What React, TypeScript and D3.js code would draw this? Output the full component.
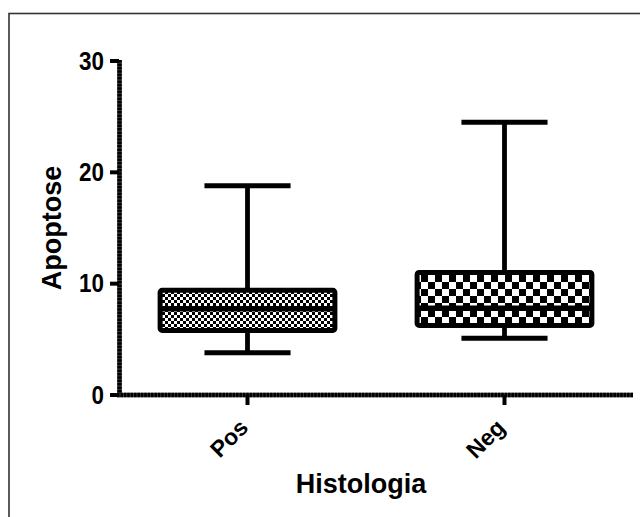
import React from 'react';
import * as d3 from 'd3';

// box plot values
const categories = ['Pos', 'Neg'];
const whiskerLow = [3.8, 5.1];
const q1 = [5.8, 6.25];
const median = [7.75, 7.8];
const q3 = [9.4, 11.0];
const whiskerHigh = [18.8, 24.5];
const yTicks = [0, 10, 20, 30];
const patterns = ['finecheck', 'bigcheck'];

const W = 640;
const H = 517;
const font = 'Arial, "Liberation Sans", Helvetica, sans-serif';

const App = () => {
  const x = d3.scaleBand().domain(categories).range([119, 633]).padding(0);
  const y = d3.scaleLinear().domain([0, 30]).range([395, 61]);
  const bw = x.bandwidth();
  const boxW = bw * 0.68;
  const capW = bw * 0.335;

  return (
    <svg width={W} height={H} style={{ position: 'absolute', left: 0, top: 0, background: '#fff' }}>
      <defs>
        <pattern id="finecheck" patternUnits="userSpaceOnUse" width="6" height="6">
          <rect width="6" height="6" fill="#fff" />
          <rect x="0" y="0" width="2.5" height="2.5" fill="#000" shapeRendering="crispEdges" />
          <rect x="3" y="3" width="2.5" height="2.5" fill="#000" shapeRendering="crispEdges" />
        </pattern>
        <pattern id="bigcheck" patternUnits="userSpaceOnUse" width="14" height="14" x="421" y="275">
          <rect width="14" height="14" fill="#fff" />
          <rect x="0" y="0" width="7" height="7" fill="#000" shapeRendering="crispEdges" />
          <rect x="7" y="7" width="7" height="7" fill="#000" shapeRendering="crispEdges" />
        </pattern>
      </defs>

      {/* outer frame */}
      <rect x="9" y="13.5" width="660" height="540" fill="none" stroke="#333" strokeWidth="1.6" />

      {/* boxes */}
      {categories.map((c, i) => {
        const cx = (x(c) as number) + bw / 2;
        return (
          <g key={c}>
            <line x1={cx} x2={cx} y1={y(whiskerHigh[i])} y2={y(q3[i])} stroke="#000" strokeWidth="4.8" />
            <line x1={cx} x2={cx} y1={y(q1[i])} y2={y(whiskerLow[i])} stroke="#000" strokeWidth="4.8" />
            <line x1={cx - capW / 2} x2={cx + capW / 2} y1={y(whiskerHigh[i])} y2={y(whiskerHigh[i])} stroke="#000" strokeWidth="5" />
            <line x1={cx - capW / 2} x2={cx + capW / 2} y1={y(whiskerLow[i])} y2={y(whiskerLow[i])} stroke="#000" strokeWidth="5" />
            <rect
              x={cx - boxW / 2}
              y={y(q3[i])}
              width={boxW}
              height={y(q1[i]) - y(q3[i])}
              fill={`url(#${patterns[i]})`}
              stroke="#000"
              strokeWidth="5"
              rx="2"
            />
            <line x1={cx - boxW / 2} x2={cx + boxW / 2} y1={y(median[i])} y2={y(median[i])} stroke="#000" strokeWidth="5.5" />
          </g>
        );
      })}

      {/* y axis */}
      <line x1="119.5" x2="119.5" y1={y(30) - 1} y2={y(0) + 2} stroke="#444" strokeWidth="4.5" />
      <line x1="119.5" x2="119.5" y1={y(30) - 1} y2={y(0) + 2} stroke="#000" strokeWidth="4.5" strokeDasharray="2.6 0.8" />
      {yTicks.map(t => (
        <g key={t}>
          <line x1="110" x2="119" y1={y(t)} y2={y(t)} stroke="#000" strokeWidth="4" />
          <text
            transform={`translate(104,${y(t) + 8.5}) scale(1.02,1.18)`}
            textAnchor="end"
            fontFamily={font}
            fontWeight="bold"
            fontSize="22"
            fill="#000"
          >
            {t}
          </text>
        </g>
      ))}

      {/* x axis */}
      <line x1="117" x2="633" y1={y(0)} y2={y(0)} stroke="#444" strokeWidth="4.5" />
      <line x1="117" x2="633" y1={y(0)} y2={y(0)} stroke="#000" strokeWidth="4.5" strokeDasharray="2.6 0.8" />
      {categories.map(c => {
        const cx = (x(c) as number) + bw / 2;
        return (
          <g key={c}>
            <line x1={cx} x2={cx} y1={y(0)} y2={y(0) + 10} stroke="#000" strokeWidth="4" />
            <text
              transform={`translate(${cx + 2},${429}) rotate(-45)`}
              textAnchor="end"
              fontFamily={font}
              fontWeight="bold"
              fontSize="23"
              fill="#000"
            >
              {c}
            </text>
          </g>
        );
      })}

      {/* axis titles */}
      <text
        transform={`translate(61,${228}) rotate(-90)`}
        textAnchor="middle"
        fontFamily={font}
        fontWeight="bold"
        fontSize="27"
        fill="#000"
      >
        Apoptose
      </text>
      <text x="361" y="493" textAnchor="middle" fontFamily={font} fontWeight="bold" fontSize="27" fill="#000">
        Histologia
      </text>
    </svg>
  );
};

export default App;
